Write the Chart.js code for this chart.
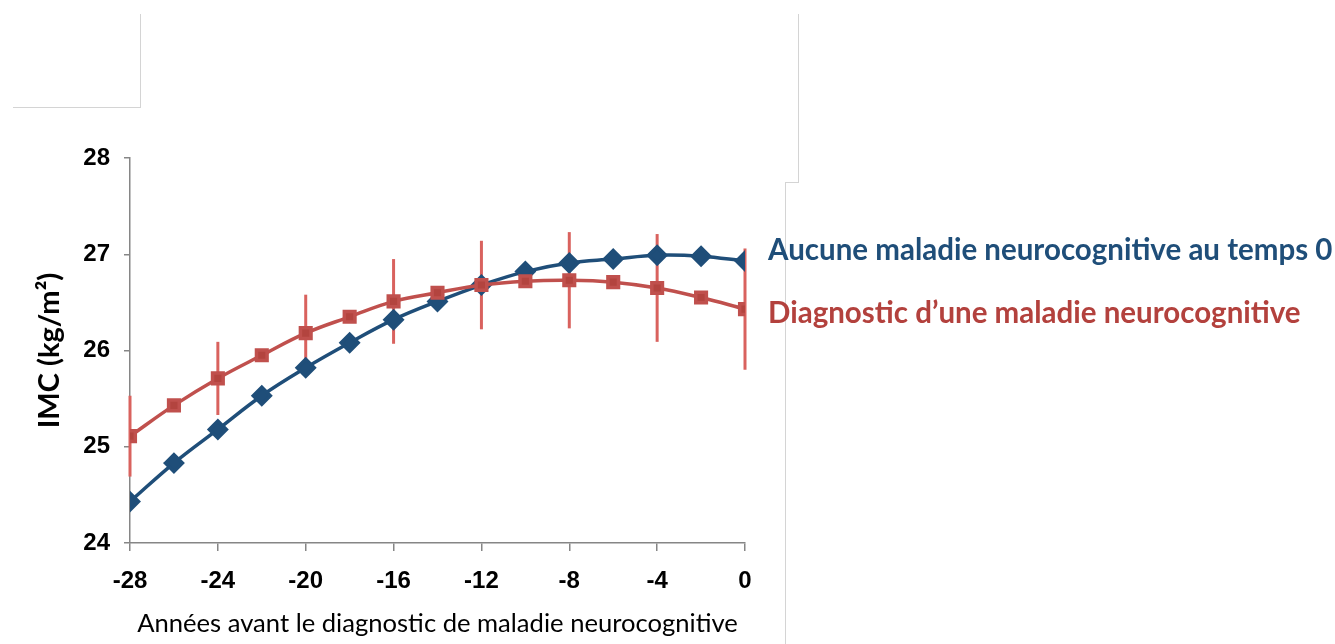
<!DOCTYPE html>
<html>
<head>
<meta charset="utf-8">
<script src="https://cdn.jsdelivr.net/npm/chart.js@4.4.1/dist/chart.umd.min.js"></script>
<style>
  body { margin: 0; background: #fff; }
  #wrap { position: relative; width: 1335px; height: 644px; overflow: hidden; }
  .gl { position: absolute; background: #d4d4d4; }
  .leg { position: absolute; left: 768px; font-family: Lato, sans-serif; font-weight: 700; font-size: 29.5px; white-space: nowrap; line-height: 1; }
</style>
</head>
<body>
<div id="wrap">
  <canvas id="myChart" width="1335" height="644"></canvas>
  <!-- stray frame lines from the original slide -->
  <div class="gl" style="left:140px;top:14px;width:1px;height:94px"></div>
  <div class="gl" style="left:13px;top:107px;width:128px;height:1px"></div>
  <div class="gl" style="left:798px;top:14px;width:1px;height:169px"></div>
  <div class="gl" style="left:785px;top:182px;width:14px;height:1px"></div>
  <div class="gl" style="left:785px;top:182px;width:1px;height:462px"></div>
  <div class="leg" style="top:234px;color:#1f4e79">Aucune maladie neurocognitive au temps 0</div>
  <div class="leg" style="top:297px;color:#b3413d">Diagnostic d’une maladie neurocognitive</div>
</div>
<script>
// years before diagnosis
const years = [-28, -26, -24, -22, -20, -18, -16, -14, -12, -10, -8, -6, -4, -2, 0]
// IMC, no dementia at time 0
const noDementia = [24.43, 24.83, 25.18, 25.53, 25.82, 26.08, 26.32, 26.51, 26.68, 26.82, 26.91, 26.95, 26.99, 26.98, 26.93]
// IMC, dementia diagnosed
const dementia = [25.11, 25.43, 25.71, 25.95, 26.18, 26.35, 26.51, 26.60, 26.68, 26.72, 26.73, 26.71, 26.65, 26.55, 26.43]
// half height of the error bars (only every 4 years)
const dementiaErr = [0.42, null, 0.38, null, 0.40, null, 0.44, null, 0.46, null, 0.50, null, 0.56, null, 0.63]
const xTicks = [-28, -24, -20, -16, -12, -8, -4, 0]
const yTicks = [24, 25, 26, 27, 28]

const tickFont = { family: "'Liberation Sans', Arial, sans-serif", weight: 'bold', size: 24 }
const axisGrey = '#868686'

const errorBars = {
  id: 'errorBars',
  beforeDatasetsDraw(chart) {
    const ctx = chart.ctx
    const ys = chart.scales.y
    const xs = chart.scales.x
    ctx.save()
    ctx.strokeStyle = '#d9625e'
    ctx.lineWidth = 3
    for (let i = 0; i < years.length; i++) {
      const e = dementiaErr[i]
      if (e == null) continue
      const px = xs.getPixelForValue(years[i])
      ctx.beginPath()
      ctx.moveTo(px, ys.getPixelForValue(dementia[i] + e))
      ctx.lineTo(px, ys.getPixelForValue(dementia[i] - e))
      ctx.stroke()
    }
    ctx.restore()
  }
}

const ctx = document.getElementById('myChart')

let chart = new Chart(ctx, {
  type: 'line',
  data: {
    datasets: [{
      label: 'Aucune maladie neurocognitive au temps 0',
      data: years.map((x, i) => ({ x: x, y: noDementia[i] })),
      borderColor: '#1f4e79',
      backgroundColor: '#1f4e79',
      borderWidth: 3.5,
      pointStyle: 'rectRot',
      pointRadius: 8.5,
      tension: 0.4,
      order: 2
    }, {
      label: 'Diagnostic d’une maladie neurocognitive',
      data: years.map((x, i) => ({ x: x, y: dementia[i] })),
      borderColor: '#c0504d',
      backgroundColor: '#b3443f',
      borderWidth: 3.5,
      pointStyle: 'rect',
      pointRadius: 7.5,
      tension: 0.4,
      order: 1
    }]
  },
  options: {
    responsive: false,
    animation: false,
    layout: { padding: { left: 0, right: 590, top: 158, bottom: 0 } },
    plugins: { legend: { display: false }, tooltip: { enabled: false } },
    scales: {
      x: {
        type: 'linear',
        min: -28,
        max: 0,
        afterFit(scale) { scale.height = 101 },
        afterBuildTicks(scale) { scale.ticks = xTicks.map(v => ({ value: v })) },
        border: { color: axisGrey, width: 1.5 },
        grid: { drawOnChartArea: false, color: axisGrey, lineWidth: 1.5, tickLength: 8 },
        ticks: { color: '#000', font: tickFont, padding: 16, maxRotation: 0 },
        title: {
          display: true,
          text: 'Années avant le diagnostic de maladie neurocognitive',
          color: '#000',
          font: { family: 'Lato, sans-serif', size: 25.6 },
          padding: { top: 0, bottom: 5 }
        }
      },
      y: {
        min: 24,
        max: 28,
        afterFit(scale) { scale.width = 130 },
        afterBuildTicks(scale) { scale.ticks = yTicks.map(v => ({ value: v })) },
        border: { color: axisGrey, width: 1.5 },
        grid: { drawOnChartArea: false, color: axisGrey, lineWidth: 1.5, tickLength: 6 },
        ticks: { color: '#000', font: tickFont, padding: 14 },
        title: {
          display: true,
          text: 'IMC (kg/m²)',
          color: '#000',
          font: { family: 'Lato, sans-serif', weight: 'bold', size: 29 },
          padding: { top: 32, bottom: 0 }
        }
      }
    }
  },
  plugins: [errorBars]
})
</script>
</body>
</html>
